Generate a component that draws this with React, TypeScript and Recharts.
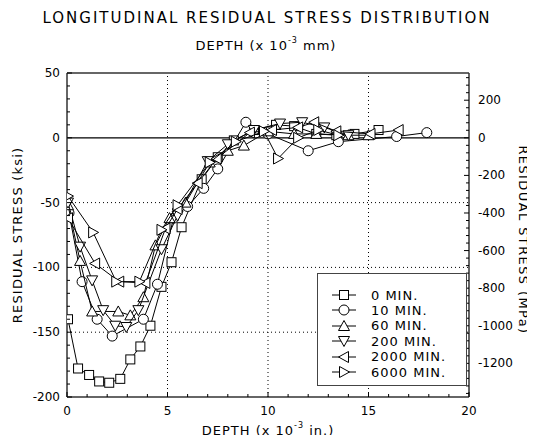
import { ScatterChart, Scatter, XAxis, YAxis, ReferenceLine } from 'recharts';

// depth in 10^-3 in., stress in ksi
const depth0 = [0.05, 0.55, 1.1, 1.6, 2.1, 2.65, 3.15, 3.65, 4.15, 4.7, 5.2, 5.7, 6.7, 7.5, 8.3, 9.3, 10.4, 11.3, 12.4, 13.4, 14.3, 15.5];
const stress0 = [-140, -178, -183, -188, -189, -186, -171, -161, -145, -115, -96, -69, -32, -15, -2, 6, 10, 9, 3, 2, 3, 6];

const depth10 = [0.1, 0.75, 1.5, 2.25, 3.8, 4.5, 5.3, 6.0, 6.8, 7.5, 8.9, 10.0, 12.0, 13.5, 16.4, 17.9];
const stress10 = [-58, -111, -140, -153, -140, -113, -62, -53, -39, -24, 12, 3, -10, -3, 1, 4];

const depth60 = [0.05, 0.65, 1.25, 2.55, 3.15, 3.8, 4.4, 5.1, 5.9, 7.1, 8.0, 8.8, 10.0, 11.3, 12.4, 14.0, 15.0];
const stress60 = [-52, -95, -134, -134, -137, -123, -83, -62, -50, -19, -10, -6, 5, 3, 3, 2, 2];

const depth200 = [0.05, 0.65, 1.25, 1.8, 2.4, 2.95, 3.55, 4.7, 5.5, 7.0, 8.0, 9.3, 10.6, 11.7, 12.8, 14.0];
const stress200 = [-50, -84, -110, -133, -145, -146, -133, -86, -60, -18, -5, 6, 11, 12, 8, 2];

const depth2000 = [0.05, 1.4, 2.6, 3.9, 4.9, 5.5, 6.5, 7.45, 9.1, 10.2, 11.5, 12.3, 13.4, 15.1, 16.5];
const stress2000 = [-62, -97, -111, -112, -70, -55, -35, -16, 4, 6, 8, 12, 5, 3, 6];

const depth6000 = [0.05, 1.3, 2.45, 3.6, 4.7, 5.5, 7.1, 8.4, 9.8, 10.5, 11.5, 12.5, 13.5];
const stress6000 = [-45, -73, -111, -111, -71, -52, -19, -3, 5, -16, 0, 6, 2];

const seriesNames = ['0 MIN.', '10 MIN.', '60 MIN.', '200 MIN.', '2000 MIN.', '6000 MIN.'];
const markerKinds = ['square', 'circle', 'up', 'down', 'left', 'right'];

const bottomTicks = Array.from({ length: 21 }, (_, i) => i);
const topTicks = Array.from({ length: 11 }, (_, i) => i * 50);
const leftTicks = Array.from({ length: 26 }, (_, i) => -200 + i * 10);
const rightTicks = Array.from({ length: 43 }, (_, i) => -1360 + i * 40);

const KSI_TO_MPA = 6.895;
const IN_TO_MM = 25.4;

const zip = (xs: number[], ys: number[]) => xs.map((x, i) => ({ x, y: ys[i] }));
const allSeries = [
  zip(depth0, stress0),
  zip(depth10, stress10),
  zip(depth60, stress60),
  zip(depth200, stress200),
  zip(depth2000, stress2000),
  zip(depth6000, stress6000),
];

const FONT = '"DejaVu Sans", sans-serif';
const W = 527;
const H = 427;
// plot box in chart coords
const L = 59;
const R = 461;
const T = 65;
const B = 389;

function Marker({ kind, cx, cy }: { kind: string; cx: number; cy: number }) {
  const st = { fill: '#fff', stroke: '#000', strokeWidth: 1 };
  const a = 5.5;
  const b = 4.5;
  switch (kind) {
    case 'square':
      return <rect x={cx - 4.5} y={cy - 4.5} width={9} height={9} {...st} />;
    case 'circle':
      return <circle cx={cx} cy={cy} r={5} {...st} />;
    case 'up':
      return <polygon points={`${cx},${cy - a} ${cx - a},${cy + b} ${cx + a},${cy + b}`} {...st} />;
    case 'down':
      return <polygon points={`${cx},${cy + a} ${cx - a},${cy - b} ${cx + a},${cy - b}`} {...st} />;
    case 'left':
      return <polygon points={`${cx - a},${cy} ${cx + b},${cy - a} ${cx + b},${cy + a}`} {...st} />;
    default:
      return <polygon points={`${cx + a},${cy} ${cx - b},${cy - a} ${cx - b},${cy + a}`} {...st} />;
  }
}

const tickText = { fontSize: 12, fontFamily: FONT, fill: '#000' };

const BottomTick = (p: any) => {
  const v = p.payload.value;
  const major = v % 5 === 0;
  return (
    <g>
      <line x1={p.x} x2={p.x} y1={B} y2={B - (major ? 5 : 3)} stroke="#000" />
      {major && (
        <text x={p.x} y={B + 18} textAnchor="middle" {...tickText}>
          {v}
        </text>
      )}
    </g>
  );
};

const TopTick = (p: any) => {
  const v = p.payload.value;
  const major = v % 100 === 0;
  return (
    <g>
      <line x1={p.x} x2={p.x} y1={T} y2={T + (major ? 5 : 3)} stroke="#000" />
      {major && (
        <text x={p.x} y={T - 5} textAnchor="middle" {...tickText}>
          {v}
        </text>
      )}
    </g>
  );
};

const LeftTick = (p: any) => {
  const v = p.payload.value;
  const major = v % 50 === 0;
  return (
    <g>
      <line x1={L} x2={L + (major ? 5 : 3)} y1={p.y} y2={p.y} stroke="#000" />
      {major && (
        <text x={L - 7} y={p.y + 4} textAnchor="end" {...tickText}>
          {v}
        </text>
      )}
    </g>
  );
};

const RightTick = (p: any) => {
  const v = p.payload.value;
  const major = v % 200 === 0;
  return (
    <g>
      <line x1={R} x2={R - (major ? 5 : 3)} y1={p.y} y2={p.y} stroke="#000" />
      {major && (
        <text x={R + 9} y={p.y + 4} textAnchor="start" {...tickText}>
          {v}
        </text>
      )}
    </g>
  );
};

function LegendBox() {
  return (
    <div
      style={{
        position: 'absolute',
        left: 309,
        top: 265,
        width: 148,
        height: 111,
        border: '1px solid #444',
        background: '#fff',
        fontFamily: FONT,
        fontSize: 13,
      }}
    >
      {seriesNames.map((name, i) => (
        <div
          key={name}
          style={{ position: 'absolute', left: 0, top: 13 + i * 15.4, height: 16, display: 'flex', alignItems: 'center' }}
        >
          <svg width={50} height={16} style={{ display: 'block' }}>
            <line x1={14} x2={38} y1={8} y2={8} stroke="#000" />
            <Marker kind={markerKinds[i]} cx={26} cy={8} />
          </svg>
          <span style={{ marginLeft: 3, letterSpacing: 1 }}>{name}</span>
        </div>
      ))}
    </div>
  );
}

function Titles() {
  const t = { fontFamily: FONT, fill: '#000', textAnchor: 'middle' as const, dominantBaseline: 'central' as const };
  return (
    <svg width={W} height={H + 8} style={{ position: 'absolute', left: 0, top: 0, pointerEvents: 'none' }}>
      <text x={259} y={10} fontSize={15} letterSpacing={2} {...t}>
        LONGITUDINAL RESIDUAL STRESS DISTRIBUTION
      </text>
      <text x={258} y={37} fontSize={13} letterSpacing={1} {...t}>
        DEPTH (x 10<tspan fontSize={8} dy={-5}>-3</tspan><tspan dy={5}> mm)</tspan>
      </text>
      <text x={260} y={422} fontSize={13} letterSpacing={1} {...t}>
        DEPTH (x 10<tspan fontSize={8} dy={-5}>-3</tspan><tspan dy={5}> in.)</tspan>
      </text>
      <text transform="translate(9,227) rotate(-90)" fontSize={13} letterSpacing={1.2} {...t}>
        RESIDUAL STRESS (ksi)
      </text>
      <text transform="translate(515,232) rotate(90)" fontSize={13} letterSpacing={1.4} {...t}>
        RESIDUAL STRESS (MPa)
      </text>
    </svg>
  );
}

export default function App() {
  return (
    <div style={{ position: 'relative', width: W, height: H + 8, marginBottom: -8, fontFamily: FONT }}>
      <ScatterChart width={W} height={H} margin={{ top: 45, right: 16, bottom: 8, left: 9 }}>
        <XAxis
          xAxisId="bottom"
          type="number"
          dataKey="x"
          domain={[0, 20]}
          ticks={bottomTicks}
          interval={0}
          height={30}
          tickLine={false}
          tick={BottomTick}
          axisLine={{ stroke: '#333', strokeWidth: 1.5 }}
          allowDataOverflow
        />
        <XAxis
          xAxisId="top"
          orientation="top"
          type="number"
          domain={[0, 20 * IN_TO_MM]}
          ticks={topTicks}
          interval={0}
          height={20}
          tickLine={false}
          tick={TopTick}
          axisLine={{ stroke: '#333', strokeWidth: 1.5 }}
          allowDataOverflow
        />
        <YAxis
          yAxisId="left"
          type="number"
          dataKey="y"
          domain={[-200, 50]}
          ticks={leftTicks}
          interval={0}
          width={50}
          tickLine={false}
          tick={LeftTick}
          axisLine={{ stroke: '#333', strokeWidth: 1.5 }}
          allowDataOverflow
        />
        <YAxis
          yAxisId="right"
          orientation="right"
          type="number"
          domain={[-200 * KSI_TO_MPA, 50 * KSI_TO_MPA]}
          ticks={rightTicks}
          interval={0}
          width={50}
          tickLine={false}
          tick={RightTick}
          axisLine={{ stroke: '#333', strokeWidth: 1.5 }}
          allowDataOverflow
        />
        {[5, 10, 15].map((v) => (
          <ReferenceLine key={'x' + v} x={v} xAxisId="bottom" yAxisId="left" stroke="#000" strokeDasharray="1 3" />
        ))}
        {[-50, -100, -150].map((v) => (
          <ReferenceLine key={'y' + v} y={v} xAxisId="bottom" yAxisId="left" stroke="#000" strokeDasharray="1 3" />
        ))}
        <ReferenceLine y={0} xAxisId="bottom" yAxisId="left" stroke="#000" strokeWidth={1.2} />
        {allSeries.map((d, i) => (
          <Scatter
            key={seriesNames[i]}
            name={seriesNames[i]}
            data={d}
            xAxisId="bottom"
            yAxisId="left"
            line={{ stroke: '#000', strokeWidth: 1 }}
            shape={(p: any) => <Marker kind={markerKinds[i]} cx={p.cx} cy={p.cy} />}
            isAnimationActive={false}
          />
        ))}
      </ScatterChart>
      <LegendBox />
      <Titles />
    </div>
  );
}
